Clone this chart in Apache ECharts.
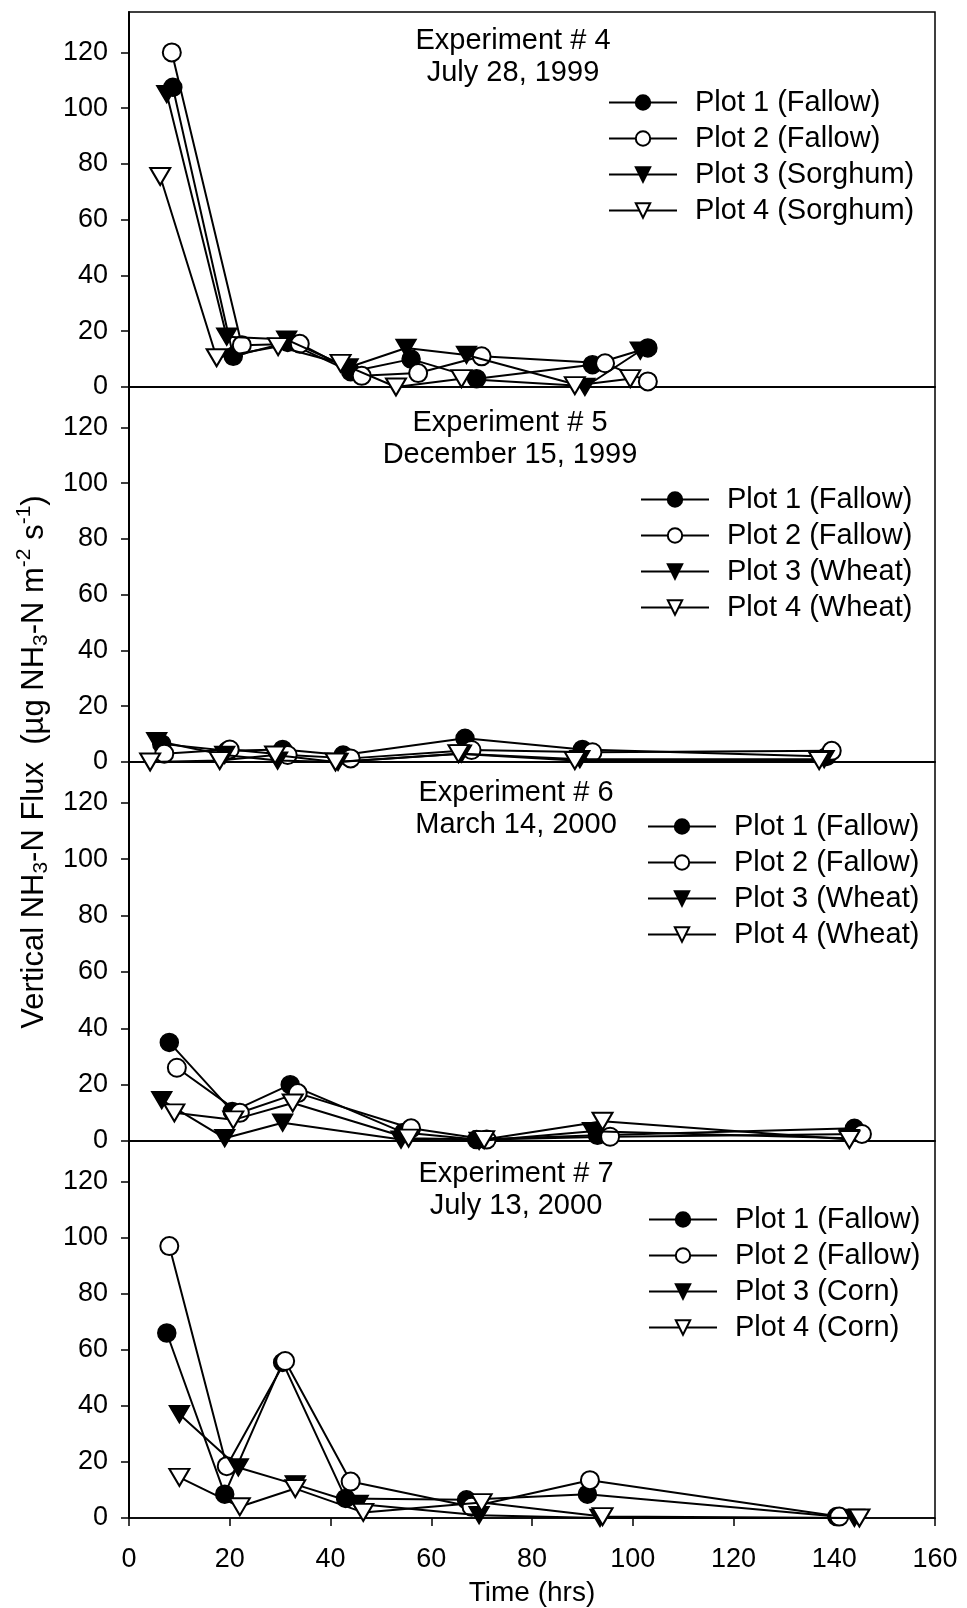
<!DOCTYPE html>
<html><head><meta charset="utf-8">
<script src="https://cdn.jsdelivr.net/npm/echarts@6/dist/echarts.min.js"></script>
<style>html,body{margin:0;padding:0;background:#fff}#c{width:967px;height:1608px}</style>
</head><body><div id="c"></div>
<script>
// ---- data ----
const xTickValues = [0,20,40,60,80,100,120,140,160];
const yTickValues = [0,20,40,60,80,100,120];
const panelTitles = [
  ["Experiment # 4","July 28, 1999"],
  ["Experiment # 5","December 15, 1999"],
  ["Experiment # 6","March 14, 2000"],
  ["Experiment # 7","July 13, 2000"]
];
const legendNames = [
  ["Plot 1 (Fallow)","Plot 2 (Fallow)","Plot 3 (Sorghum)","Plot 4 (Sorghum)"],
  ["Plot 1 (Fallow)","Plot 2 (Fallow)","Plot 3 (Wheat)","Plot 4 (Wheat)"],
  ["Plot 1 (Fallow)","Plot 2 (Fallow)","Plot 3 (Wheat)","Plot 4 (Wheat)"],
  ["Plot 1 (Fallow)","Plot 2 (Fallow)","Plot 3 (Corn)","Plot 4 (Corn)"]
];
// [time (hrs), flux]
const exp4Plot1 = [[8.7,107.5],[20.7,11],[31.5,16],[44,5.5],[56,10],[69,3],[92,8],[103,14]];
const exp4Plot2 = [[8.5,120],[22.4,15],[33.9,15.5],[46.2,4],[57.4,5],[70,11],[94.5,8.5],[103,2]];
const exp4Plot3 = [[7.5,105],[19.4,18],[31.3,17],[43.5,7],[55,14],[67,11.5],[90.5,0],[101.5,13]];
const exp4Plot4 = [[6.2,75.5],[17.4,10.5],[29.6,14.5],[42,8.5],[53,0],[66,3],[88.5,0.5],[99.5,3]];

const exp5Plot1 = [[6.5,6.5],[19.5,4],[30.5,4.5],[42.5,2.5],[66.7,8.5],[90,4.5],[138.5,2]];
const exp5Plot2 = [[7,3],[20,4.5],[31.5,2.5],[44,1.3],[68,4.3],[92,3.5],[139.5,4]];
const exp5Plot3 = [[5.5,7.5],[19,2.5],[29.5,0.5],[41.5,0],[66,3],[89.5,1],[138,1]];
const exp5Plot4 = [[4.2,0],[18,0.5],[29,2.5],[41,0],[65.4,3],[88.5,0.5],[137,0.5]];

const exp6Plot1 = [[8,35],[20.5,10.5],[32,20],[54.5,3],[69,0.5],[93,2],[144,4.5]];
const exp6Plot2 = [[9.5,26],[22,10],[33.5,17],[56,4.5],[71,0.5],[95.5,1.5],[145.5,2.5]];
const exp6Plot3 = [[6.5,14.5],[19,1],[30.5,6.5],[54,0.5],[69.5,0],[92,3.5],[143,1]];
const exp6Plot4 = [[9,10],[20.7,7.5],[32.5,13.5],[55.5,1],[70.5,0.5],[94,7],[143,0.5]];

const exp7Plot1 = [[7.5,66],[19,8.5],[30.5,55.5],[43,7],[67,6.5],[91,8.5],[140.5,0.5]];
const exp7Plot2 = [[8,97],[19.4,18.5],[31,56],[44,13],[68,4],[91.5,13.5],[141,0.5]];
const exp7Plot3 = [[10,37],[21.7,18],[33,12],[45.5,5],[69.5,1],[93.5,0],[144,0]];
const exp7Plot4 = [[10,14.5],[22,4],[33,10.5],[46.5,2],[70,5.5],[94,0.5],[145,0]];

const panelData = [
  [exp4Plot1,exp4Plot2,exp4Plot3,exp4Plot4],
  [exp5Plot1,exp5Plot2,exp5Plot3,exp5Plot4],
  [exp6Plot1,exp6Plot2,exp6Plot3,exp6Plot4],
  [exp7Plot1,exp7Plot2,exp7Plot3,exp7Plot4]
];

// ---- layout / style ----
const FONT = '"Liberation Sans", Arial, Helvetica, sans-serif';
const gridTops = [12, 387, 762, 1141];
const gridHeights = [375, 375, 379, 377];
const GL = 129, GW = 806;
const legendLeft = [608, 640, 647, 648];
const legendTop = [88, 485, 812, 1205];
const titleCenterX = [513, 510, 516, 516];
const titleTop = [25, 407, 777, 1158];

const markerStyles = [
  {symbol:'circle', symbolSize:18, symbolRotate:0, itemStyle:{color:'#000', borderColor:'#000', borderWidth:1.5}},
  {symbol:'circle', symbolSize:18, symbolRotate:0, itemStyle:{color:'#fff', borderColor:'#000', borderWidth:2}},
  {symbol:'triangle', symbolSize:[20,17], symbolRotate:180, itemStyle:{color:'#000', borderColor:'#000', borderWidth:1.5}},
  {symbol:'triangle', symbolSize:[20,17], symbolRotate:180, itemStyle:{color:'#fff', borderColor:'#000', borderWidth:2}}
];
const drawOrder = [3,2,0,1];

const grids = [], xAxes = [], yAxes = [], series = [], legends = [], graphics = [];
for (let p = 0; p < 4; p++) {
  grids.push({left:GL, width:GW, top:gridTops[p], height:gridHeights[p], show:true,
    borderColor:'#000', borderWidth:1.5, backgroundColor:'transparent'});
  const last = p === 3;
  xAxes.push({type:'value', gridIndex:p, min:0, max:160, interval:20,
    axisLine:{show:true, onZero:false, lineStyle:{color:'#000', width:1.5}},
    axisTick:{show:last, inside:false, length:8, lineStyle:{color:'#000', width:1.5}},
    axisLabel:{show:last, fontSize:27, fontFamily:FONT, color:'#000', margin:28},
    splitLine:{show:false},
    name: last ? 'Time (hrs)' : '', nameLocation:'middle', nameGap:61,
    nameTextStyle:{fontSize:28, fontFamily:FONT, color:'#000'}
  });
  yAxes.push({type:'value', gridIndex:p, min:0, max:134.5, interval:20,
    axisLine:{show:true, lineStyle:{color:'#000', width:2}},
    axisTick:{show:true, length:8, lineStyle:{color:'#000', width:1.5}, customValues:yTickValues},
    axisLabel:{fontSize:27, fontFamily:FONT, color:'#000', margin:21, customValues:yTickValues,
      formatter: v => (yTickValues.indexOf(v) >= 0 ? String(v) : '')},
    splitLine:{show:false}
  });
  for (const k of drawOrder) {
    const m = markerStyles[k];
    series.push({
      type:'line', name:legendNames[p][k], xAxisIndex:p, yAxisIndex:p,
      data:panelData[p][k], symbol:m.symbol, symbolSize:m.symbolSize, symbolRotate:m.symbolRotate,
      showSymbol:true, showAllSymbol:true, clip:false, animation:false,
      itemStyle:m.itemStyle, lineStyle:{color:'#000', width:2},
      emphasis:{disabled:true}, z: 2 + k
    });
  }
  legends.push({orient:'vertical', left:legendLeft[p], top:legendTop[p], padding:0,
    itemWidth:68, itemHeight:18, itemGap:7, selectedMode:false,
    data:legendNames[p].map(n => ({name:n})),
    textStyle:{fontSize:29, fontFamily:FONT, color:'#000', padding:[0,0,0,13]}
  });
  graphics.push({type:'text', x:titleCenterX[p], y:titleTop[p], z:100,
    style:{text:panelTitles[p].join('\n'), font:'29px ' + FONT, fill:'#000',
      textAlign:'center', align:'center', textVerticalAlign:'top', verticalAlign:'top', lineHeight:32}});
}
graphics.push({type:'text', x:34, y:762, rotation:Math.PI/2, z:100,
  style:{
    text:'{n|Vertical NH}{s|3}{n|-N Flux  (µg NH}{s|3}{n|-N m}{p|-2}{n| s}{p|-1}{n|)}',
    rich:{
      n:{fontSize:31, fontFamily:FONT, fill:'#000', color:'#000'},
      s:{fontSize:21, fontFamily:FONT, fill:'#000', color:'#000', padding:[15,0,0,0]},
      p:{fontSize:21, fontFamily:FONT, fill:'#000', color:'#000', padding:[0,0,19,0]}
    },
    textAlign:'center', align:'center', textVerticalAlign:'middle', verticalAlign:'middle'
  }});

const chart = echarts.init(document.getElementById('c'), null, {renderer:'canvas'});
chart.setOption({
  animation:false, backgroundColor:'#fff',
  grid:grids, xAxis:xAxes, yAxis:yAxes, series:series, legend:legends, graphic:graphics
});
</script></body></html>
